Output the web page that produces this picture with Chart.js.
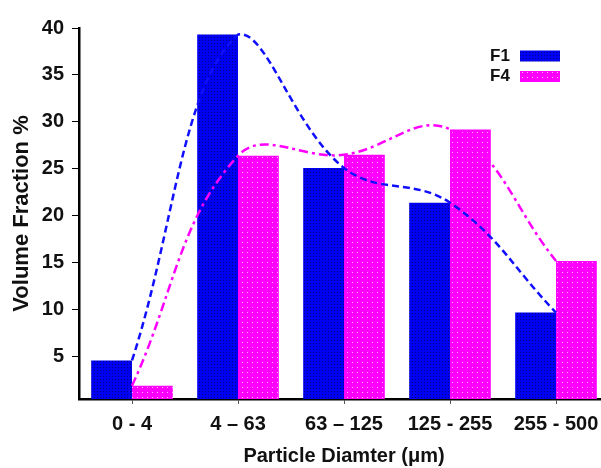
<!DOCTYPE html>
<html>
<head>
<meta charset="utf-8">
<script src="https://cdn.jsdelivr.net/npm/chart.js@4.4.1/dist/chart.umd.min.js"></script>
<style>
  html, body { margin: 0; padding: 0; background: #fff; }
  #wrap { width: 601px; height: 468px; overflow: hidden; position: relative; }
  canvas { display: block; }
</style>
</head>
<body>
<div id="wrap"><canvas id="psdChart" width="612" height="468"></canvas></div>
<script>
// data
const categories = ['0 - 4', '4 \u2013 63', '63 \u2013 125', '125 - 255', '255 - 500'];
const f1Values = [4.6, 39.3, 25.1, 21.4, 9.7];
const f4Values = [1.9, 26.4, 26.5, 29.2, 15.2];
const yTicks = [5, 10, 15, 20, 25, 30, 35, 40];

const FONT = "'Liberation Sans', Arial, sans-serif";

const ctx = document.getElementById('psdChart').getContext('2d');

// stippled fills like the original bars
function stipple(base, dot, size, at) {
  const c = document.createElement('canvas');
  c.width = size; c.height = size;
  const g = c.getContext('2d');
  g.fillStyle = base; g.fillRect(0, 0, size, size);
  g.fillStyle = dot; g.fillRect(at, at, 1, 1);
  return ctx.createPattern(c, 'repeat');
}
const bluePat = stipple('#0000f2', '#000080', 3, 1);
const pinkPat = stipple('#ff00ff', '#ffb4ff', 5, 2);

// legend drawn by hand, top right
const cornerLegend = {
  id: 'cornerLegend',
  afterDraw(chart) {
    const c = chart.ctx;
    const items = [
      { text: 'F1', fill: bluePat, y: 56 },
      { text: 'F4', fill: pinkPat, y: 76.5 }
    ];
    c.save();
    c.font = 'bold 17px ' + FONT;
    c.textBaseline = 'middle';
    c.textAlign = 'left';
    items.forEach(it => {
      c.fillStyle = '#111';
      c.fillText(it.text, 490, it.y);
      c.fillStyle = it.fill;
      c.fillRect(520, it.y - 5.5, 40, 11);
    });
    c.restore();
  }
};

new Chart(ctx, {
  data: {
    labels: categories,
    datasets: [
      {
        type: 'line',
        label: 'F1 fit',
        data: f1Values,
        borderColor: '#1010ff',
        borderWidth: 2.5,
        borderDash: [7, 4],
        pointRadius: 0,
        tension: 0.4,
        fill: false,
        order: 0
      },
      {
        type: 'line',
        label: 'F4 fit',
        data: f4Values,
        borderColor: '#ff00ff',
        borderWidth: 2.5,
        borderDash: [9, 4, 3, 4],
        pointRadius: 0,
        tension: 0.4,
        fill: false,
        order: 0
      },
      {
        type: 'bar',
        label: 'F1',
        data: f1Values,
        backgroundColor: bluePat,
        borderWidth: 0,
        categoryPercentage: 0.77,
        barPercentage: 1.0,
        order: 1
      },
      {
        type: 'bar',
        label: 'F4',
        data: f4Values,
        backgroundColor: pinkPat,
        borderWidth: 0,
        categoryPercentage: 0.77,
        barPercentage: 1.0,
        order: 1
      }
    ]
  },
  options: {
    responsive: false,
    animation: false,
    devicePixelRatio: 1,
    layout: { padding: { left: 0, right: 3, top: 28, bottom: 0 } },
    plugins: {
      legend: { display: false },
      tooltip: { enabled: false }
    },
    scales: {
      x: {
        grid: {
          display: true,
          drawOnChartArea: false,
          drawTicks: true,
          tickLength: 5,
          offset: false,
          color: '#555'
        },
        border: { display: true, color: '#000', width: 2.5 },
        ticks: {
          color: '#111',
          padding: 8,
          maxRotation: 0,
          font: { family: FONT, size: 20, weight: 'bold' }
        },
        title: {
          display: true,
          text: 'Particle Diamter (\u03bcm)',
          color: '#111',
          padding: { top: 0, bottom: 0 },
          font: { family: FONT, size: 20, weight: 'bold' }
        },
        afterFit(scale) { scale.height = 69; }
      },
      y: {
        min: 0.5,
        max: 40,
        grid: {
          display: true,
          drawOnChartArea: false,
          drawTicks: true,
          tickLength: 7,
          color: '#000'
        },
        border: { display: true, color: '#000', width: 2.5 },
        afterBuildTicks(scale) {
          scale.ticks = yTicks.map(v => ({ value: v }));
        },
        ticks: {
          color: '#111',
          padding: 8,
          font: { family: FONT, size: 20, weight: 'bold' }
        },
        title: {
          display: true,
          text: 'Volume Fraction %',
          color: '#111',
          padding: { top: 9, bottom: 0 },
          font: { family: FONT, size: 22, weight: 'bold' }
        },
        afterFit(scale) { scale.width = 79; }
      }
    }
  },
  plugins: [cornerLegend]
});
</script>
</body>
</html>
